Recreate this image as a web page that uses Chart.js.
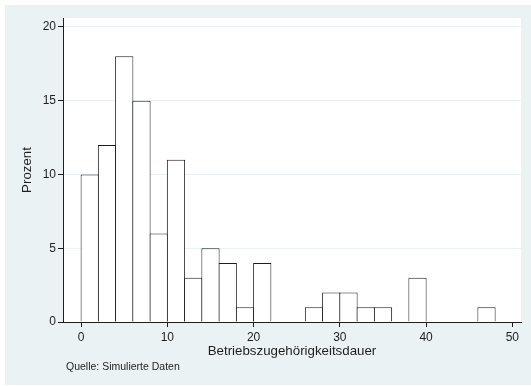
<!DOCTYPE html>
<html>
<head>
<meta charset="utf-8">
<script src="https://cdn.jsdelivr.net/npm/chart.js@4/dist/chart.umd.min.js"></script>
<style>
  html, body { margin: 0; padding: 0; background: #ffffff; }
  canvas { display: block; }
</style>
</head>
<body>
<canvas id="hist" width="531" height="386"></canvas>
<script>
// Histogram of job tenure (years), bins of width 2, values in percent
const binStarts = [0, 2, 4, 6, 8, 10, 12, 14, 16, 18, 20, 22, 24, 26, 28, 30, 32, 34, 36, 38, 40, 42, 44, 46];
const percents  = [10, 12, 18, 15, 6, 11, 3, 5, 4, 1, 4, 0, 0, 1, 2, 2, 1, 1, 0, 3, 0, 0, 0, 1];
const binWidth = 2;
const xTicks = [0, 10, 20, 30, 40, 50];
const yTicks = [0, 5, 10, 15, 20];
const xTitle = 'Betriebszugehörigkeitsdauer';
const yTitle = 'Prozent';
const caption = 'Quelle: Simulierte Daten';

const BG = '#eaf2f3';
const INK = '#1e1e1e';
const FONT = '"Liberation Sans", Arial, Helvetica, sans-serif';

const points = binStarts.map((s, i) => ({ x: s + binWidth / 2, y: percents[i] }));

const backdrop = {
  id: 'backdrop',
  beforeDraw(chart) {
    const { ctx, width, height, chartArea: a } = chart;
    ctx.save();
    ctx.fillStyle = '#ffffff';
    ctx.fillRect(0, 0, width, height);
    ctx.fillStyle = BG;
    ctx.fillRect(5, 5, width - 5, height - 6);
    ctx.fillStyle = '#ffffff';
    ctx.fillRect(a.left, a.top, a.right - a.left, a.bottom - a.top);
    ctx.restore();
  },
  afterDraw(chart) {
    const { ctx } = chart;
    ctx.save();
    ctx.font = '10.5px ' + FONT;
    ctx.fillStyle = INK;
    ctx.textBaseline = 'middle';
    ctx.textAlign = 'left';
    ctx.fillText(caption, 66, 367);
    ctx.restore();
  }
};

new Chart(document.getElementById('hist'), {
  type: 'bar',
  data: {
    datasets: [{
      data: points,
      backgroundColor: '#ffffff',
      borderColor: INK,
      borderWidth: 1,
      borderSkipped: 'start',
      barPercentage: 1.058,
      categoryPercentage: 1
    }]
  },
  options: {
    responsive: false,
    animation: false,
    devicePixelRatio: 1,
    layout: { padding: { top: 18, right: 10, left: 0, bottom: 0 } },
    plugins: { legend: { display: false }, tooltip: { enabled: false } },
    scales: {
      x: {
        type: 'linear',
        min: -2.1,
        max: 51,
        offset: false,
        afterBuildTicks(scale) { scale.ticks = xTicks.map(v => ({ value: v })); },
        afterFit(scale) { scale.height = 64; },
        grid: {
          offset: false,
          drawOnChartArea: false,
          drawTicks: true,
          tickLength: 5,
          tickColor: INK,
          tickWidth: 1
        },
        border: { display: true, color: INK, width: 1 },
        ticks: {
          color: INK,
          font: { family: FONT, size: 12 },
          padding: 3,
          maxRotation: 0,
          autoSkip: false
        },
        title: {
          display: true,
          text: xTitle,
          color: INK,
          font: { family: FONT, size: 13.3 },
          padding: { top: 0, bottom: 27 }
        }
      },
      y: {
        type: 'linear',
        min: 0,
        max: 20.6,
        afterBuildTicks(scale) { scale.ticks = yTicks.map(v => ({ value: v })); },
        afterFit(scale) { scale.width = 63; },
        grid: {
          drawOnChartArea: true,
          color: ctx => (ctx.tick && ctx.tick.value === 0) ? 'rgba(0,0,0,0)' : BG,
          lineWidth: 1,
          drawTicks: true,
          tickLength: 5,
          tickColor: INK,
          tickWidth: 1
        },
        border: { display: true, color: INK, width: 1 },
        ticks: {
          color: INK,
          font: { family: FONT, size: 12 },
          padding: 2
        },
        title: {
          display: true,
          text: yTitle,
          color: INK,
          font: { family: FONT, size: 13.3 },
          padding: { top: 19, bottom: 0 }
        }
      }
    }
  },
  plugins: [backdrop]
});
</script>
</body>
</html>
